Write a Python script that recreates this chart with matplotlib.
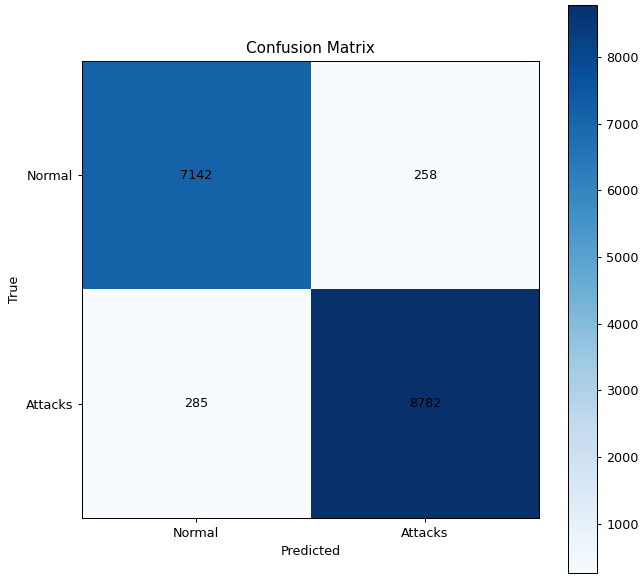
import numpy as np
import matplotlib
matplotlib.use("Agg")
from matplotlib import pyplot as plt

labels = ["Normal", "Attacks"]
normal_row = [7142, 258]
attacks_row = [285, 8782]

cm = np.array([normal_row, attacks_row])

W, H = 644, 577
DPI = 91.7  # reference text looks ~0.917x the default size
fig = plt.figure(figsize=((W + 0.3) / DPI, (H + 0.3) / DPI), dpi=DPI)

# axes placed in pixel coords (left, bottom, width, height)
ax = fig.add_axes([82 / W, 1 - 518 / H, 457 / W, 457 / H])
cax = fig.add_axes([568 / W, 1 - 573 / H, 29 / W, 568 / H])

im = ax.imshow(cm, cmap="Blues", interpolation="nearest", aspect="auto")
fig.colorbar(im, cax=cax)

for i in range(cm.shape[0]):
    for j in range(cm.shape[1]):
        ax.text(j, i, str(cm[i, j]), ha="center", va="center", color="black")

ax.set_xticks(range(len(labels)))
ax.set_xticklabels(labels)
ax.set_yticks(range(len(labels)))
ax.set_yticklabels(labels)
ax.set_xlabel("Predicted")
ax.set_ylabel("True")
ax.set_title("Confusion Matrix")

fig.savefig("out.png", dpi=DPI)
